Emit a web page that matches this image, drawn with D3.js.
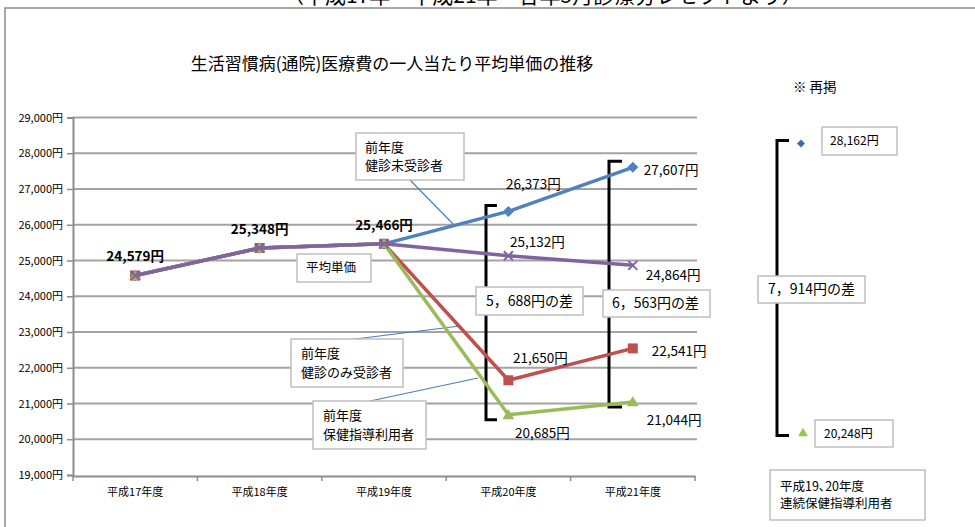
<!DOCTYPE html>
<meta charset="utf-8">
<style>
  body { margin: 0; background: #fff; }
  svg { font-family: "Noto Sans CJK JP", sans-serif; }
  .grid line { stroke: #a3a3a3; stroke-width: 2px; }
  .box { fill: #fff; stroke: #bfbfbf; stroke-width: 1.5px; }
  .connector { stroke: #4a7ebb; stroke-width: 1.2px; fill: none; }
  .bracket { stroke: #000; stroke-width: 3px; fill: none; }
</style>

<svg width="975" height="527"></svg>

<script src="https://cdnjs.cloudflare.com/ajax/libs/d3/7.8.5/d3.min.js"></script>

<script>
  // chart values
  var years = ["平成17年度", "平成18年度", "平成19年度", "平成20年度", "平成21年度"];
  var avgPrice = [24579, 25348, 25466, 25132, 24864];        // 平均単価
  var noCheckup = [24579, 25348, 25466, 26373, 27607];       // 前年度 健診未受診者
  var checkupOnly = [24579, 25348, 25466, 21650, 22541];     // 前年度 健診のみ受診者
  var guidance = [24579, 25348, 25466, 20685, 21044];        // 前年度 保健指導利用者
  var yTicks = [19000, 20000, 21000, 22000, 23000, 24000, 25000, 26000, 27000, 28000, 29000];
  var insetHigh = 28162;   // 再掲 健診未受診者
  var insetLow = 20248;    // 再掲 連続保健指導利用者
  var diffs = ["5，688円の差", "6，563円の差", "7，914円の差"];

  var svg = d3.select("svg");
  var fmt = function(d) { return d3.format(",")(d) + "円"; };

  var x = d3.scaleBand().domain(years).range([73, 695]);
  var cx = function(i) { return x(years[i]) + x.bandwidth() / 2; };
  var y = d3.scaleLinear().domain([19000, 29000]).range([475, 117.5]);

  // outer frame + cut-off header
  svg.append("rect").attr("x", 5).attr("y", 8).attr("width", 1000).attr("height", 600)
      .attr("fill", "none").attr("stroke", "#8c8c8c").attr("stroke-width", 1.5);
  svg.append("text").attr("x", 283).attr("y", 3).attr("font-size", 21)
      .text("（平成17年～平成21年　各年5月診療分レセプトより）");

  svg.append("text").attr("x", 392).attr("y", 64).attr("dy", "0.35em")
      .attr("text-anchor", "middle").attr("font-size", 17)
      .text("生活習慣病(通院)医療費の一人当たり平均単価の推移");

  // gridlines
  svg.append("g").attr("class", "grid")
    .selectAll("line").data(yTicks.slice(1)).enter().append("line")
      .attr("x1", 73).attr("x2", 697)
      .attr("y1", function(d) { return y(d); }).attr("y2", function(d) { return y(d); });

  // y axis
  var yAxis = svg.append("g").attr("transform", "translate(73,0)")
      .call(d3.axisLeft(y).tickValues(yTicks).tickFormat(fmt).tickSize(6).tickPadding(4));
  yAxis.select(".domain").attr("stroke", "#8c8c8c").attr("stroke-width", 2);
  yAxis.selectAll(".tick line").attr("stroke", "#8c8c8c").attr("stroke-width", 1.5);
  yAxis.selectAll("text").attr("font-size", 11).attr("fill", "#000")
      .attr("font-family", "'Noto Sans CJK JP', sans-serif");

  // x axis
  var xAxis = svg.append("g").attr("transform", "translate(0,476)")
      .call(d3.axisBottom(x).tickSize(0).tickPadding(12));
  xAxis.select(".domain").attr("stroke", "#8c8c8c").attr("stroke-width", 2);
  xAxis.selectAll("text").attr("font-size", 11).attr("fill", "#000")
      .attr("font-family", "'Noto Sans CJK JP', sans-serif");
  xAxis.selectAll(".edge").data(years.map(function(d) { return x(d); }).concat([x.range()[1]]))
    .enter().append("line").attr("class", "edge")
      .attr("x1", function(d) { return d; }).attr("x2", function(d) { return d; })
      .attr("y1", 0).attr("y2", 5).attr("stroke", "#8c8c8c").attr("stroke-width", 1.5);

  // brackets
  function bracket(bx, top, bottom, len) {
    svg.append("path").attr("class", "bracket")
        .attr("d", "M" + (bx + len) + "," + top + "H" + bx + "V" + bottom + "H" + (bx + len));
  }
  bracket(486, y(noCheckup[3]) - 6, y(guidance[3]) + 5, 11);
  bracket(609, y(noCheckup[4]) - 6, y(guidance[4]) + 5, 13);
  bracket(777, y(insetHigh) - 7, y(insetLow) + 5, 12);

  // connectors
  function connector(x1, y1, x2, y2) {
    svg.append("line").attr("class", "connector")
        .attr("x1", x1).attr("y1", y1).attr("x2", x2).attr("y2", y2);
  }
  connector(410, 180, 455, 226);
  connector(347, 340, 460, 326);
  connector(370, 401, 478, 378);

  // series
  var line = d3.line().x(function(d, i) { return cx(i); }).y(function(d) { return y(d); });
  var series = [
    { values: noCheckup, color: "#4f81bd", marker: "diamond" },
    { values: checkupOnly, color: "#c0504d", marker: "square" },
    { values: guidance, color: "#9bbb59", marker: "triangle" },
    { values: avgPrice, color: "#8064a2", marker: "x" }
  ];

  function drawMarker(g, type, px, py, color, r) {
    r = r || 5.5;
    if (type === "diamond") {
      g.append("path").attr("d", "M0," + (-r) + "L" + r + ",0L0," + r + "L" + (-r) + ",0Z")
          .attr("transform", "translate(" + px + "," + py + ")").attr("fill", color);
    } else if (type === "square") {
      g.append("rect").attr("x", px - 5).attr("y", py - 5).attr("width", 10).attr("height", 10)
          .attr("fill", color);
    } else if (type === "triangle") {
      g.append("path").attr("d", d3.symbol().type(d3.symbolTriangle).size(r * r * 2)())
          .attr("transform", "translate(" + px + "," + (py + 1) + ")").attr("fill", color);
    } else {
      g.append("path").attr("d", "M-4.5,-4.5L4.5,4.5M-4.5,4.5L4.5,-4.5")
          .attr("transform", "translate(" + px + "," + py + ")")
          .attr("stroke", color).attr("stroke-width", 2).attr("fill", "none");
    }
  }

  series.forEach(function(s) {
    var g = svg.append("g");
    g.append("path").datum(s.values).attr("d", line)
        .attr("fill", "none").attr("stroke", s.color).attr("stroke-width", 3.5)
        .attr("stroke-linejoin", "round");
    s.values.forEach(function(v, i) { drawMarker(g, s.marker, cx(i), y(v), s.color); });
  });

  // data labels
  function label(text, px, py, anchor, size, weight) {
    svg.append("text").attr("x", px).attr("y", py).attr("dy", "0.35em")
        .attr("text-anchor", anchor).attr("font-size", size)
        .attr("font-weight", weight || "normal").text(text);
  }
  [0, 1, 2].forEach(function(i) {
    label(fmt(avgPrice[i]), cx(i), y(avgPrice[i]) - 19, "middle", 13.5, "bold");
  });
  label(fmt(noCheckup[3]), cx(3) + 25, y(noCheckup[3]) - 27, "middle", 13.5);
  label(fmt(noCheckup[4]), cx(4) + 11, y(noCheckup[4]) + 3, "start", 13.5);
  label(fmt(avgPrice[3]), cx(3) + 29, y(avgPrice[3]) - 14, "middle", 13.5);
  label(fmt(avgPrice[4]), cx(4) + 13, y(avgPrice[4]) + 10, "start", 13.5);
  label(fmt(checkupOnly[3]), cx(3) + 32, y(checkupOnly[3]) - 22, "middle", 13.5);
  label(fmt(checkupOnly[4]), cx(4) + 19, y(checkupOnly[4]) + 3, "start", 13.5);
  label(fmt(guidance[3]), cx(3) + 34, y(guidance[3]) + 19, "middle", 13.5);
  label(fmt(guidance[4]), cx(4) + 14, y(guidance[4]) + 18, "start", 13.5);

  // callout boxes
  function box(bx, by, w, h, lines, tx, size) {
    svg.append("rect").attr("class", "box").attr("x", bx).attr("y", by).attr("width", w).attr("height", h);
    var lh = size * 1.4;
    var y0 = by + h / 2 - (lines.length - 1) * lh / 2;
    lines.forEach(function(t, i) {
      svg.append("text").attr("x", tx).attr("y", y0 + i * lh).attr("dy", "0.35em")
          .attr("font-size", size).text(t);
    });
  }
  box(356, 133, 108, 47, ["前年度", "健診未受診者"], 365, 13);
  box(297, 254, 74, 28, ["平均単価"], 306, 12.5);
  box(291, 339, 112, 48, ["前年度", "健診のみ受診者"], 301, 13);
  box(313, 401, 113, 48, ["前年度", "保健指導利用者"], 323, 13);
  box(476, 287, 107, 28, [diffs[0]], 486, 14);
  box(603, 290, 107, 27, [diffs[1]], 612, 14);

  // inset (再掲)
  svg.append("text").attr("x", 793).attr("y", 87).attr("dy", "0.35em").attr("font-size", 13.5)
      .text("※  再掲");
  var inset = svg.append("g");
  drawMarker(inset, "diamond", 801, y(insetHigh) - 4, "#3e6aa5", 4);
  drawMarker(inset, "triangle", 803, y(insetLow) + 2, "#92c84a", 4.5);
  box(758, 276, 107, 27, [diffs[2]], 768, 14);
  box(822, 127, 75, 28, [fmt(insetHigh)], 830, 12);
  box(815, 420, 78, 27, [fmt(insetLow)], 824, 12);
  box(770, 470, 155, 50, ["平成19､20年度", "連続保健指導利用者"], 780, 12.5);
</script>
